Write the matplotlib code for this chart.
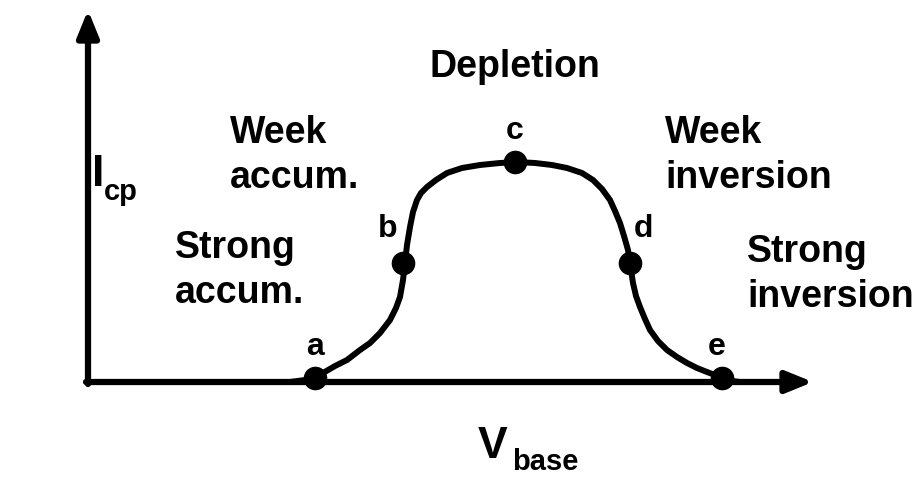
import matplotlib
matplotlib.use("Agg")
import matplotlib.pyplot as plt

plt.rcParams['font.family'] = ['Liberation Sans', 'DejaVu Sans']
plt.rcParams['font.weight'] = 'bold'

# curve (V_base, I_cp in pixel-like units)
v_curve = [290, 305, 315, 323, 335, 347, 360, 370, 380, 390, 396, 400, 403, 405,
           407, 410, 413, 417, 421, 427, 436, 447, 462, 480, 500, 517, 535, 552,
           567, 582, 593, 602, 610, 615, 620, 624, 628, 630, 633, 636, 640, 645,
           650, 658, 667, 677, 687, 697, 707, 715, 722, 732, 740]
i_curve = [0, 2, 4, 9, 16, 22, 32, 39, 49, 62, 74, 85, 102, 119,
           137, 155, 170, 182, 189, 195, 202, 209, 214, 217, 219, 220, 219, 217,
           214, 209, 202, 193, 182, 171, 159, 146, 132, 119, 99, 86, 75, 63,
           52, 41, 32, 25, 19, 14, 10, 7, 4, 1, 0]

# marked points a..e
pt_names = ['a', 'b', 'c', 'd', 'e']
pt_v = [315, 403, 515, 630, 722]
pt_i = [4, 119, 220, 119, 4]
lbl_v = [315, 388, 515, 643, 717]
lbl_i = [35, 153, 251, 153, 35]

# region labels: (text lines, x, first baseline, alignment)
regions = [
    (['Depletion'], 515, 305, 'center'),
    (['Week', 'accum.'], 230, 239, 'left'),
    (['Strong', 'accum.'], 175, 124, 'left'),
    (['Week', 'inversion'], 665, 239, 'left'),
    (['Strong', 'inversion'], 747, 120, 'left'),
]
line_gap = 45

fig = plt.figure(figsize=(9.21, 4.78), dpi=100)
ax = fig.add_axes([0, 0, 1, 1])
ax.set_xlim(0, 921)
ax.set_ylim(-96, 382)
ax.axis('off')

# axes with arrows
arr = dict(arrowstyle='-|>,head_length=1.6,head_width=0.65', lw=4.5, color='k',
           shrinkA=0, shrinkB=0)
ax.annotate('', xy=(88, 372), xytext=(88, -2), arrowprops=arr)
ax.annotate('', xy=(813, 0), xytext=(86, 0), arrowprops=arr)

ax.plot(v_curve, i_curve, color='k', lw=4.3, solid_joinstyle='round',
        solid_capstyle='round')
ax.plot(pt_v, pt_i, 'o', color='k', ms=16)

for n, x, y in zip(pt_names, lbl_v, lbl_i):
    ax.text(x, y, n, fontsize=23, ha='center', va='center')

for lines, x, y, ha in regions:
    for k, s in enumerate(lines):
        ax.text(x, y - k * line_gap, s, fontsize=27, ha=ha, va='baseline')

# axis titles with subscripts
ax.text(92, 196, 'I', fontsize=32, ha='left', va='baseline')
ax.text(104, 182, 'cp', fontsize=21, ha='left', va='baseline')
ax.text(478, -76, 'V', fontsize=32, ha='left', va='baseline')
ax.text(512, -88, 'base', fontsize=21, ha='left', va='baseline')

fig.savefig('out.png', dpi=100)
